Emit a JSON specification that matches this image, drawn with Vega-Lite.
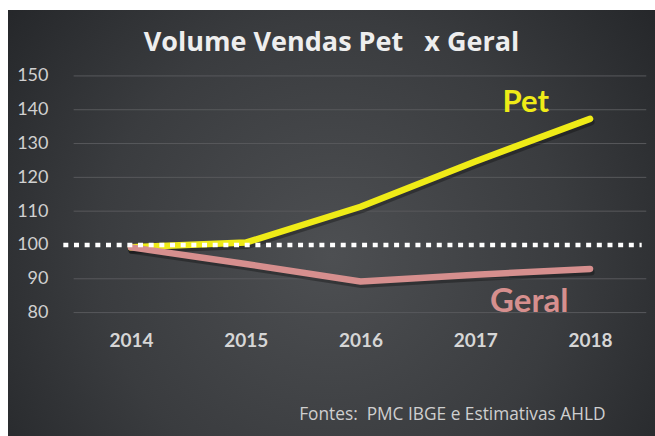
{
  "$schema": "https://vega.github.io/schema/vega-lite/v6.json",
  "width": 647,
  "height": 426,
  "padding": {"left": 8, "top": 10, "right": 0, "bottom": 0},
  "autosize": {"type": "none"},
  "background": "#ffffff",
  "title": {
    "text": "Volume Vendas Pet\u00a0\u00a0 x Geral",
    "font": "Open Sans",
    "fontSize": 27,
    "fontWeight": "bold",
    "color": "#eeeeee",
    "anchor": "middle",
    "baseline": "alphabetic",
    "offset": -68
  },
  "config": {
    "view": {
      "stroke": null,
      "fill": {
        "gradient": "radial",
        "x1": 0.5, "y1": 0.55, "r1": 0,
        "x2": 0.5, "y2": 0.55, "r2": 0.72,
        "stops": [
          {"offset": 0, "color": "#4d4f52"},
          {"offset": 0.5, "color": "#3a3c3f"},
          {"offset": 1, "color": "#1e2023"}
        ]
      }
    }
  },
  "datasets": {
    "series": [
      {"series": "Pet", "year": 2014, "value": 99.3},
      {"series": "Pet", "year": 2015, "value": 100.7},
      {"series": "Pet", "year": 2016, "value": 111.3},
      {"series": "Pet", "year": 2017, "value": 124.7},
      {"series": "Pet", "year": 2018, "value": 137.3},
      {"series": "Geral", "year": 2014, "value": 99.3},
      {"series": "Geral", "year": 2015, "value": 94.4},
      {"series": "Geral", "year": 2016, "value": 89.2},
      {"series": "Geral", "year": 2017, "value": 91.2},
      {"series": "Geral", "year": 2018, "value": 92.9}
    ],
    "grid": [
      {"value": 80}, {"value": 90}, {"value": 110}, {"value": 120},
      {"value": 130}, {"value": 140}, {"value": 150}
    ],
    "ref": [{"value": 100}],
    "labels": [
      {"series": "Pet", "year": 2017.44, "value": 139.4, "size": 31},
      {"series": "Geral", "year": 2017.47, "value": 80.2, "size": 33}
    ]
  },
  "layer": [
    {
      "data": {"name": "grid"},
      "mark": {"type": "rule", "color": "#58595c", "strokeWidth": 1},
      "encoding": {
        "y": {
          "field": "value", "type": "quantitative",
          "scale": {"domain": [43.5, 169.5], "zero": false, "nice": false},
          "axis": {
            "values": [80, 90, 100, 110, 120, 130, 140, 150],
            "grid": false, "ticks": false, "domain": false,
            "labelFont": "Lato", "labelFontSize": 18, "labelColor": "#d0d0d0",
            "labelFlush": false, "labelOverlap": false, "labelPadding": 0,
            "offset": -40, "title": null
          }
        },
        "x": {
          "datum": 2013.5, "type": "quantitative",
          "scale": {"domain": [2012.928, 2018.566], "zero": false, "nice": false},
          "axis": {
            "values": [2014, 2015, 2016, 2017, 2018],
            "format": "d",
            "grid": false, "ticks": false, "domain": false,
            "labelFont": "Lato", "labelFontSize": 19, "labelFontWeight": "bold",
            "labelColor": "#d6d6d6", "labelFlush": false, "labelOverlap": false,
            "labelBaseline": "middle", "labelPadding": 0, "offset": -96,
            "title": "Fontes:\u00a0 PMC IBGE e Estimativas AHLD",
            "titleFont": "Open Sans", "titleFontSize": 17.3, "titleFontWeight": "normal",
            "titleColor": "#cfcfcf", "titleAlign": "right", "titleBaseline": "middle",
            "titleX": 597, "titleY": 74
          }
        },
        "x2": {"datum": 2018.49}
      }
    },
    {
      "data": {"name": "series"},
      "mark": {"type": "line", "stroke": "#000000", "opacity": 0.3, "strokeWidth": 7, "strokeCap": "round", "strokeJoin": "round", "xOffset": 1, "yOffset": 3},
      "encoding": {
        "x": {"field": "year", "type": "quantitative"},
        "y": {"field": "value", "type": "quantitative"},
        "detail": {"field": "series", "type": "nominal"},
        "order": {"field": "year"}
      }
    },
    {
      "data": {"name": "series"},
      "mark": {"type": "line", "strokeWidth": 6.5, "strokeCap": "round", "strokeJoin": "round"},
      "encoding": {
        "x": {"field": "year", "type": "quantitative"},
        "y": {"field": "value", "type": "quantitative"},
        "color": {
          "field": "series", "type": "nominal",
          "scale": {"domain": ["Pet", "Geral"], "range": ["#efeb17", "#d68f8e"]},
          "legend": null
        },
        "order": {"field": "year"}
      }
    },
    {
      "data": {"name": "ref"},
      "mark": {"type": "rule", "color": "#ffffff", "strokeWidth": 4.5, "strokeDash": [5, 5.67]},
      "encoding": {
        "y": {"field": "value", "type": "quantitative"},
        "x": {"datum": 2013.41, "type": "quantitative"},
        "x2": {"datum": 2018.45}
      }
    },
    {
      "data": {"name": "labels"},
      "mark": {"type": "text", "font": "Lato", "fontWeight": "bold", "align": "center", "baseline": "alphabetic"},
      "encoding": {
        "x": {"field": "year", "type": "quantitative"},
        "y": {"field": "value", "type": "quantitative"},
        "text": {"field": "series"},
        "size": {"field": "size", "type": "quantitative", "scale": null},
        "color": {"field": "series", "type": "nominal", "legend": null}
      }
    }
  ]
}
